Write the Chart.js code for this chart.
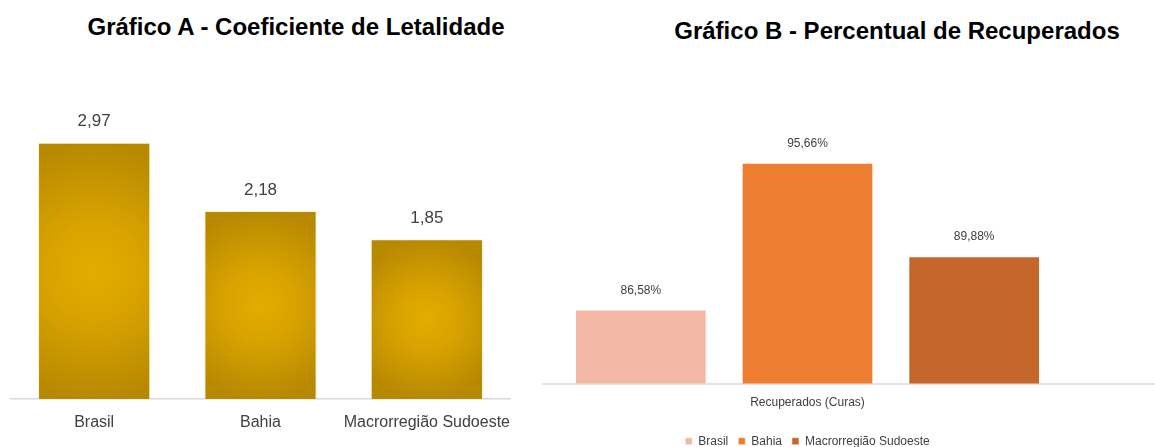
<!DOCTYPE html>
<html>
<head>
<meta charset="utf-8">
<script src="https://cdn.jsdelivr.net/npm/chart.js@4/dist/chart.umd.min.js"></script>
<style>
  html, body { margin: 0; padding: 0; background: #fff; overflow: hidden; }
  body { width: 1155px; height: 447px; position: relative; }
  .title {
    position: absolute; font: bold 24px "Liberation Sans", Arial, sans-serif;
    color: #000; white-space: nowrap; transform: translate(-50%, -50%);
  }
  #boxA { position: absolute; left: 0; top: 0; width: 540px; height: 447px; }
  #boxB { position: absolute; left: 540px; top: 0; width: 615px; height: 470px; }
</style>
</head>
<body>
<div class="title" style="left:296px; top:27px;">Gráfico A - Coeficiente de Letalidade</div>
<div class="title" style="left:897px; top:31px;">Gráfico B - Percentual de Recuperados</div>
<div id="boxA"><canvas id="chartA"></canvas></div>
<div id="boxB"><canvas id="chartB"></canvas></div>
<script>
const regions = ['Brasil', 'Bahia', 'Macrorregião Sudoeste'];
const letalidade = [2.97, 2.18, 1.85];
const recuperadosLabel = ['Recuperados (Curas)'];
const recuperados = [86.58, 95.66, 89.88];
const recColors = ['#F4B9A5', '#ED7D31', '#C5662A'];

const GOLD_CENTER = '#E3AC00';
const GOLD_EDGE = '#B78900';
const TEXT = '#404040';
const SANS = '"Liberation Sans", Arial, sans-serif';

function fmt(v, suffix = '') {
  return v.toFixed(2).replace('.', ',') + suffix;
}

// text above each bar
const valueLabels = {
  id: 'valueLabels',
  afterDatasetsDraw(chart, args, opts) {
    const ctx = chart.ctx;
    ctx.save();
    ctx.font = opts.font;
    ctx.fillStyle = TEXT;
    ctx.textAlign = 'center';
    ctx.textBaseline = 'middle';
    chart.data.datasets.forEach((ds, i) => {
      chart.getDatasetMeta(i).data.forEach((bar, j) => {
        ctx.fillText(fmt(ds.data[j], opts.suffix), bar.x, bar.y - opts.offset);
      });
    });
    ctx.restore();
  }
};

// baseline that runs wider than the plot area
const baseLine = {
  id: 'baseLine',
  beforeDatasetsDraw(chart, args, opts) {
    const ctx = chart.ctx;
    const y = chart.chartArea.bottom + 0.5;
    ctx.save();
    ctx.strokeStyle = '#D9D9D9';
    ctx.lineWidth = 1.5;
    ctx.beginPath();
    ctx.moveTo(opts.from, y);
    ctx.lineTo(chart.width, y);
    ctx.stroke();
    ctx.restore();
  }
};

function goldFill(c) {
  const chart = c.chart;
  if (!chart.chartArea || c.type !== 'data') return GOLD_EDGE;
  const xs = chart.scales.x, ys = chart.scales.y;
  const x = xs.getPixelForValue(c.dataIndex);
  const top = ys.getPixelForValue(c.raw);
  const base = ys.getPixelForValue(0);
  const cy = (top + base) / 2;
  const r = Math.max(base - top, 111) / 2;
  const g = chart.ctx.createRadialGradient(x, cy, 0, x, cy, r);
  g.addColorStop(0, GOLD_CENTER);
  g.addColorStop(0.35, '#DAA400');
  g.addColorStop(1, GOLD_EDGE);
  return g;
}

new Chart(document.getElementById('chartA'), {
  type: 'bar',
  data: {
    labels: regions,
    datasets: [{
      data: letalidade,
      backgroundColor: goldFill,
      borderColor: 'rgba(255,235,180,0.6)',
      borderWidth: 1,
      barPercentage: 0.675,
      categoryPercentage: 1,
    }]
  },
  options: {
    responsive: true,
    maintainAspectRatio: false,
    animation: false,
    layout: { padding: { left: 11, right: 30, top: 97, bottom: 0 } },
    plugins: {
      legend: { display: false },
      tooltip: { enabled: false },
      valueLabels: { font: '17px ' + SANS, offset: 21, suffix: '' },
    },
    scales: {
      x: {
        grid: { display: false },
        border: { display: true, color: '#D9D9D9', width: 1.5 },
        ticks: { color: TEXT, font: { family: SANS, size: 16 }, padding: 6, maxRotation: 0, autoSkip: false },
        afterFit(scale) { scale.height = 48; },
      },
      y: { display: false, min: 0, max: 3.5 },
    },
  },
  plugins: [valueLabels],
});

new Chart(document.getElementById('chartB'), {
  type: 'bar',
  data: {
    labels: recuperadosLabel,
    datasets: regions.map((name, i) => ({
      label: name,
      data: [recuperados[i]],
      backgroundColor: recColors[i],
      borderColor: 'rgba(255,255,255,0.5)',
      borderWidth: 1,
      barPercentage: 0.79,
      categoryPercentage: 1,
    })),
  },
  options: {
    responsive: true,
    maintainAspectRatio: false,
    animation: false,
    layout: { padding: { left: 17.5, right: 97.5, top: 125, bottom: 12.8 } },
    plugins: {
      legend: {
        position: 'bottom',
        labels: { boxWidth: 7, boxHeight: 7, padding: 10, color: TEXT, font: { family: SANS, size: 12 } },
      },
      tooltip: { enabled: false },
      valueLabels: { font: '12px ' + SANS, offset: 19, suffix: '%' },
      baseLine: { from: 2 },
    },
    scales: {
      x: {
        grid: { display: false },
        border: { display: false },
        ticks: { color: TEXT, font: { family: SANS, size: 12 }, padding: 4 },
        afterFit(scale) { scale.height = 41.8; },
      },
      y: { display: false, min: 82, max: 98 },
    },
  },
  plugins: [valueLabels, baseLine],
});
</script>
</body>
</html>
